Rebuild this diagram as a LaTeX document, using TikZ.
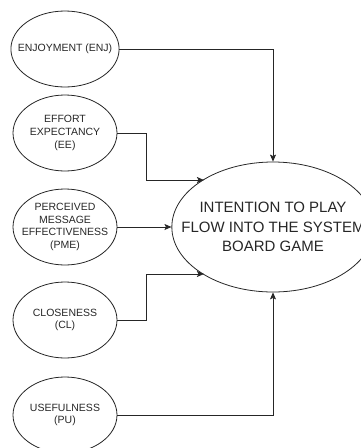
\documentclass[tikz,border=0pt]{standalone}
\usepackage{fontspec}
\setmainfont{Liberation Sans}
\usetikzlibrary{shapes.geometric,arrows.meta}
\begin{document}
\begin{tikzpicture}[x=1pt,y=-1pt,
  small/.style={draw=black!85,line width=0.8pt,ellipse,minimum width=104pt,minimum height=76pt,inner sep=-9pt,align=center,text=black!85,font=\fontsize{10.5}{12.8}\selectfont},
  big/.style={draw=black!85,line width=0.8pt,ellipse,minimum width=200pt,minimum height=130pt,inner sep=-20pt,align=center,text=black!85,font=\fontsize{15}{19.5}\selectfont},
  arr/.style={draw=black!85,line width=0.8pt,-{Stealth[length=7pt,width=6pt,inset=1.5pt]}},
  line/.style={draw=black!85,line width=0.8pt}]
\useasboundingbox (0,0) rectangle (361,448);
\clip (0,0) rectangle (361,448);
\node[small] (enj) at (65,49) {ENJOYMENT (ENJ)};
\node[small] (ee) at (65,133) {EFFORT\\EXPECTANCY\\(EE)};
\node[small] (pme) at (65,227) {PERCEIVED\\MESSAGE\\EFFECTIVENESS\\(PME)};
\node[small] (cl) at (65,320) {CLOSENESS\\(CL)};
\node[small] (pu) at (65,415) {USEFULNESS\\(PU)};
\node[big] (goal) at (273,227) {INTENTION TO PLAY\\FLOW INTO THE SYSTEM\\BOARD GAME};
\path (goal.center) +(-69.1,-47) coordinate (eein);
\path (goal.center) +(-69.1,47) coordinate (clin);
\coordinate (bendx) at (146,0);
\draw[arr] (enj.east) -| (goal.north);
\draw[arr] (ee.east) -| (bendx |- eein) -- (eein);
\draw[arr] (pme.east) -- (goal.west);
\draw[arr] (cl.east) -| (bendx |- clin) -- (clin);
\draw[arr] (pu.east) -| (goal.south);
\end{tikzpicture}
\end{document}
